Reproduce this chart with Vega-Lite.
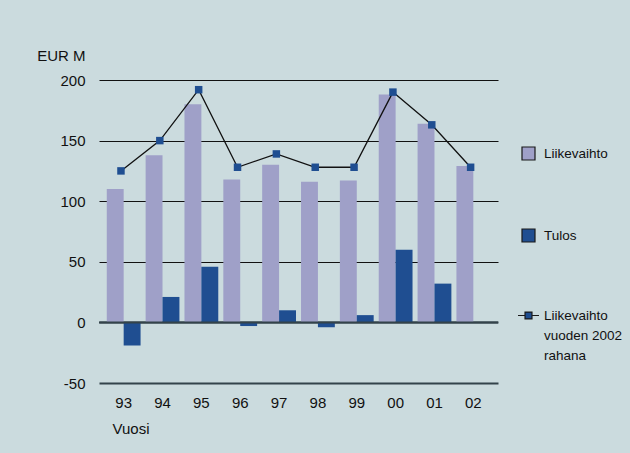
{
  "$schema": "https://vega.github.io/schema/vega-lite/v6.json",
  "width": 399,
  "height": 303,
  "autosize": "none",
  "padding": {"left": 99, "top": 80, "right": 132, "bottom": 70},
  "background": "#cbdbde",
  "config": {
    "view": {"stroke": null},
    "font": "Liberation Sans, Arial, sans-serif",
    "axis": {"labelFont": "Liberation Sans, Arial, sans-serif", "titleFont": "Liberation Sans, Arial, sans-serif", "labelColor": "#111", "titleColor": "#111"},
    "legend": {"labelFont": "Liberation Sans, Arial, sans-serif", "labelColor": "#111"}
  },
  "datasets": {
    "bars": [
      {"vuosi": "93", "sarja": "Liikevaihto", "arvo": 110},
      {"vuosi": "93", "sarja": "Tulos", "arvo": -19},
      {"vuosi": "94", "sarja": "Liikevaihto", "arvo": 138},
      {"vuosi": "94", "sarja": "Tulos", "arvo": 21},
      {"vuosi": "95", "sarja": "Liikevaihto", "arvo": 180},
      {"vuosi": "95", "sarja": "Tulos", "arvo": 46},
      {"vuosi": "96", "sarja": "Liikevaihto", "arvo": 118},
      {"vuosi": "96", "sarja": "Tulos", "arvo": -3},
      {"vuosi": "97", "sarja": "Liikevaihto", "arvo": 130},
      {"vuosi": "97", "sarja": "Tulos", "arvo": 10},
      {"vuosi": "98", "sarja": "Liikevaihto", "arvo": 116},
      {"vuosi": "98", "sarja": "Tulos", "arvo": -4},
      {"vuosi": "99", "sarja": "Liikevaihto", "arvo": 117},
      {"vuosi": "99", "sarja": "Tulos", "arvo": 6},
      {"vuosi": "00", "sarja": "Liikevaihto", "arvo": 188},
      {"vuosi": "00", "sarja": "Tulos", "arvo": 60},
      {"vuosi": "01", "sarja": "Liikevaihto", "arvo": 164},
      {"vuosi": "01", "sarja": "Tulos", "arvo": 32},
      {"vuosi": "02", "sarja": "Liikevaihto", "arvo": 129},
      {"vuosi": "02", "sarja": "Tulos", "arvo": 0}
    ],
    "line": [
      {"vuosi": "93", "sarja": "Liikevaihto vuoden 2002 rahana", "arvo": 125},
      {"vuosi": "94", "sarja": "Liikevaihto vuoden 2002 rahana", "arvo": 150},
      {"vuosi": "95", "sarja": "Liikevaihto vuoden 2002 rahana", "arvo": 192},
      {"vuosi": "96", "sarja": "Liikevaihto vuoden 2002 rahana", "arvo": 128},
      {"vuosi": "97", "sarja": "Liikevaihto vuoden 2002 rahana", "arvo": 139},
      {"vuosi": "98", "sarja": "Liikevaihto vuoden 2002 rahana", "arvo": 128},
      {"vuosi": "99", "sarja": "Liikevaihto vuoden 2002 rahana", "arvo": 128},
      {"vuosi": "00", "sarja": "Liikevaihto vuoden 2002 rahana", "arvo": 190},
      {"vuosi": "01", "sarja": "Liikevaihto vuoden 2002 rahana", "arvo": 163},
      {"vuosi": "02", "sarja": "Liikevaihto vuoden 2002 rahana", "arvo": 128}
    ],
    "zero": [{"arvo": 0}]
  },
  "layer": [
    {
      "data": {"name": "bars"},
      "mark": {"type": "bar"},
      "encoding": {
        "x": {
          "field": "vuosi", "type": "ordinal", "sort": null,
          "scale": {"paddingInner": 0.13, "paddingOuter": 0.2},
          "axis": {
            "title": "Vuosi", "domain": false, "ticks": false, "grid": false,
            "labelAngle": 0, "labelFontSize": 15, "labelPadding": 12, "labelBaseline": "top",
            "titleFontSize": 15, "titleFontWeight": "normal", "titleAnchor": "start",
            "titleAlign": "left", "titleBaseline": "alphabetic", "titleX": 13, "titleY": 50
          }
        },
        "xOffset": {"field": "sarja", "sort": ["Liikevaihto", "Tulos"]},
        "y": {
          "field": "arvo", "type": "quantitative",
          "scale": {"domain": [-50, 200], "nice": false},
          "axis": {
            "title": "EUR M", "values": [-50, 0, 50, 100, 150, 200],
            "labelExpr": "'' + datum.value",
            "domain": false, "ticks": false, "labelPadding": 14, "labelFontSize": 15,
            "grid": true,
            "gridColor": {"condition": {"test": "datum.value <= 0", "value": "#33434a"}, "value": "#111"},
            "gridWidth": {"condition": {"test": "datum.value <= 0", "value": 2}, "value": 1.2},
            "gridOpacity": 1,
            "titleAngle": 0, "titleAlign": "right", "titleBaseline": "alphabetic",
            "titleX": -14, "titleY": -20, "titleFontSize": 15, "titleFontWeight": "normal"
          }
        },
        "color": {
          "field": "sarja", "type": "nominal",
          "scale": {
            "domain": ["Liikevaihto", "Tulos", "Liikevaihto vuoden 2002 rahana"],
            "range": ["#9fa0c8", "#1f4e91", "#1f4e91"]
          },
          "legend": {
            "title": null, "orient": "none", "legendX": 422, "legendY": 66,
            "direction": "vertical", "rowPadding": 63, "labelFontSize": 13.5,
            "labelOffset": 8, "labelLimit": 200,
            "labelExpr": "datum.label == 'Liikevaihto vuoden 2002 rahana' ? ['Liikevaihto', 'vuoden 2002', 'rahana'] : datum.label",
            "encode": {
              "symbols": {
                "update": {
                  "shape": {"signal": "datum.label == 'Liikevaihto vuoden 2002 rahana' ? 'M-1,0H-0.33M0.33,0H1M-0.33,-0.33H0.33V0.33H-0.33Z' : 'square'"},
                  "size": {"signal": "datum.label == 'Liikevaihto vuoden 2002 rahana' ? 441 : 169"},
                  "stroke": {"value": "#1a1a1a"},
                  "strokeWidth": {"value": 1.2},
                  "opacity": {"value": 1},
                  "fillOpacity": {"value": 1}
                }
              },
              "labels": {"update": {"lineHeight": {"value": 20}}}
            }
          }
        }
      }
    },
    {
      "data": {"name": "zero"},
      "mark": {"type": "rule", "color": "#33434a", "strokeWidth": 2},
      "encoding": {"y": {"field": "arvo", "type": "quantitative"}}
    },
    {
      "data": {"name": "line"},
      "mark": {"type": "line", "color": "#111", "strokeWidth": 1.3},
      "encoding": {
        "x": {"field": "vuosi", "type": "ordinal", "sort": null, "bandPosition": 0.42},
        "y": {"field": "arvo", "type": "quantitative"}
      }
    },
    {
      "data": {"name": "line"},
      "mark": {"type": "square", "size": 56, "opacity": 1, "filled": true},
      "encoding": {
        "x": {"field": "vuosi", "type": "ordinal", "sort": null, "bandPosition": 0.42},
        "y": {"field": "arvo", "type": "quantitative"},
        "color": {"field": "sarja", "type": "nominal"}
      }
    }
  ]
}
